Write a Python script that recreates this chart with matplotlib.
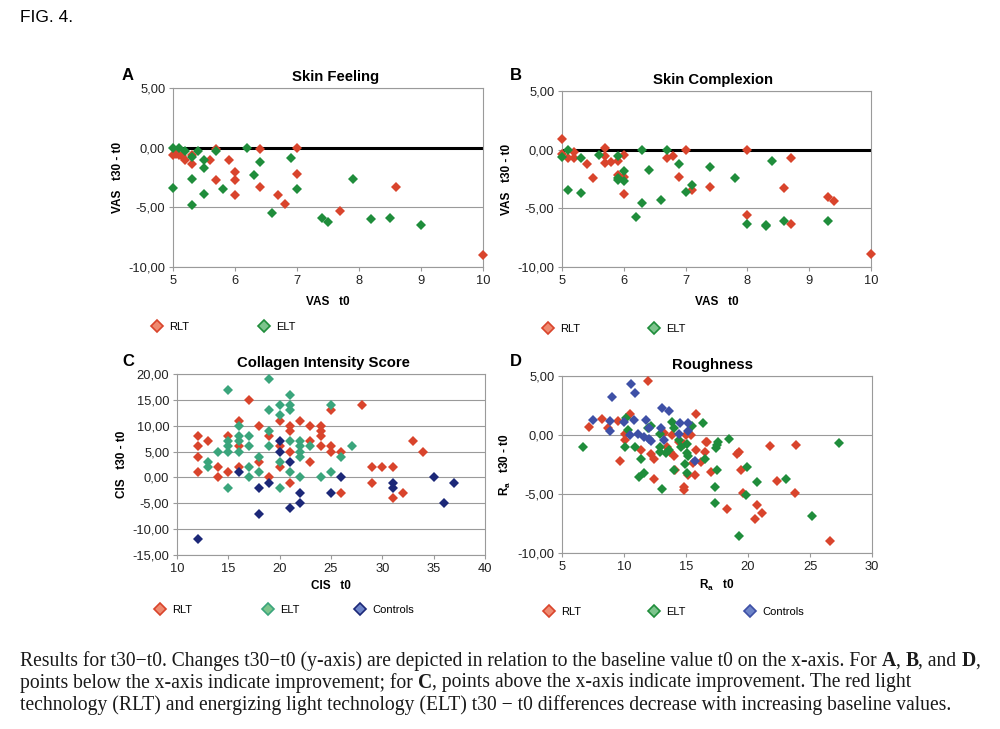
import matplotlib
matplotlib.use("Agg")
import matplotlib.pyplot as plt
from matplotlib.lines import Line2D
from matplotlib.ticker import FuncFormatter, MultipleLocator

plt.rcParams['font.family'] = ['Liberation Sans', 'DejaVu Sans']
plt.rcParams['mathtext.fontset'] = 'custom'
plt.rcParams['mathtext.rm'] = 'Liberation Sans'
plt.rcParams['mathtext.bf'] = 'Liberation Sans:bold'

# Panel A - Skin Feeling
A_RLT_X = [5.0, 5.05, 5.1, 5.15, 5.2, 5.3, 5.3, 5.6, 5.7, 5.7, 5.9, 6.0, 6.0, 6.0, 6.4, 6.4, 6.7, 6.8, 7.0, 7.0, 7.7, 8.6, 10.0]
A_RLT_Y = [-0.6, -0.5, -0.6, -0.7, -1.0, -0.6, -1.4, -1.0, -0.15, -2.7, -1.0, -2.0, -2.7, -4.0, -0.15, -3.3, -4.0, -4.75, -0.05, -2.2, -5.3, -3.3, -9.0]
A_ELT_X = [5.0, 5.0, 5.1, 5.2, 5.3, 5.3, 5.3, 5.4, 5.5, 5.5, 5.5, 5.7, 5.8, 6.2, 6.3, 6.4, 6.6, 6.9, 7.0, 7.4, 7.5, 7.9, 8.2, 8.5, 9.0]
A_ELT_Y = [-0.05, -3.4, 0.0, -0.25, -0.75, -2.6, -4.8, -0.25, -1.05, -1.7, -3.9, -0.25, -3.5, 0.0, -2.3, -1.2, -5.5, -0.9, -3.5, -5.9, -6.2, -2.6, -6.0, -5.9, -6.5]

# Panel B - Skin Complexion
B_RLT_X = [5.0, 5.0, 5.1, 5.2, 5.2, 5.4, 5.5, 5.7, 5.7, 5.7, 5.8, 5.9, 5.9, 6.0, 6.0, 6.0, 6.7, 6.8, 6.9, 7.0, 7.1, 7.4, 8.0, 8.0, 8.6, 8.7, 8.7, 9.3, 9.4, 10.0]
B_RLT_Y = [0.95, -0.4, -0.75, -0.7, -0.2, -1.2, -2.45, 0.15, -0.5, -1.15, -1.05, -1.0, -2.2, -0.45, -2.3, -3.8, -0.7, -0.5, -2.3, -0.05, -3.4, -3.2, 0.0, -5.6, -3.3, -0.7, -6.3, -4.0, -4.4, -8.9]
B_ELT_X = [5.0, 5.1, 5.1, 5.3, 5.3, 5.6, 5.9, 5.9, 5.9, 6.0, 6.0, 6.2, 6.3, 6.3, 6.4, 6.6, 6.7, 6.9, 7.0, 7.1, 7.4, 7.8, 8.0, 8.3, 8.3, 8.4, 8.6, 9.3]
B_ELT_Y = [-0.65, 0.0, -3.45, -0.75, -3.7, -0.45, -0.55, -2.4, -2.55, -1.85, -2.65, -5.7, 0.0, -4.55, -1.75, -4.25, 0.0, -1.25, -3.6, -3.0, -1.45, -2.45, -6.3, -6.4, -6.5, -0.95, -6.05, -6.05]

# Panel C - Collagen Intensity Score
C_RLT_X = [12, 12, 12, 12, 13, 14, 14, 15, 15, 16, 16, 16, 17, 18, 18, 19, 19, 20, 20, 20, 21, 21, 21, 21, 22, 23, 23, 23,
           24, 24, 24, 24, 25, 25, 25, 26, 26, 28, 29, 29, 30, 31, 31, 32, 33, 34]
C_RLT_Y = [8, 6, 4, 1, 7, 2, 0, 8, 1, 11, 6, 2, 15, 10, 3, 8, 0, 11, 6, 2, 10, 9, 5, -1, 11, 10, 7, 3,
           10, 9, 8, 6, 13, 6, 5, 5, -3, 14, 2, -1, 2, 2, -4, -3, 7, 5]
C_ELT_X = [13, 13, 14, 15, 15, 15, 15, 15, 16, 16, 16, 16, 17, 17, 17, 17, 18, 18, 19, 19, 19, 19, 20, 20, 20, 20,
           21, 21, 21, 21, 21, 22, 22, 22, 22, 22, 23, 24, 25, 25, 26, 27]
C_ELT_Y = [3, 2, 5, 17, 7, 6, 5, -2, 10, 8, 7, 5, 8, 6, 2, 0, 4, 1, 19, 13, 9, 6, 14, 12, 3, -2,
           16, 14, 13, 7, 1, 7, 6, 5, 4, 0, 6, 0, 14, 1, 4, 6]
C_CTRL_X = [12, 16, 18, 18, 19, 20, 20, 21, 21, 22, 22, 25, 26, 31, 31, 35, 36, 37]
C_CTRL_Y = [-12, 1, -2, -7, -1, 7, 5, 3, -6, -3, -5, -3, 0, -1, -2, 0, -5, -1]

# Panel D - Roughness
D_RLT_X = [7.2, 8.2, 8.7, 9.5, 9.7, 10.1, 10.1, 10.5, 11.4, 11.9, 12.2, 12.4, 12.4, 13.2, 13.5, 13.7, 13.9, 14.0, 14.1,
           14.4, 14.8, 14.8, 14.8, 15.0, 15.2, 15.4, 15.6, 15.7, 15.8, 15.8, 16.2, 16.5, 16.6, 16.7, 17.0, 18.3,
           19.1, 19.3, 19.4, 19.6, 20.6, 20.7, 21.1, 21.8, 22.3, 23.8, 23.9, 26.6]
D_RLT_Y = [0.7, 1.35, 0.6, 1.2, -2.2, 0.05, -0.4, 1.8, -1.25, 4.6, -1.6, -2.0, -3.7, 0.15, -1.0, -1.4, 0.0, -1.8, -3.0,
           -0.6, -0.75, -4.4, -4.7, 0.0, -3.4, 0.0, -2.4, -3.4, 1.8, -1.3, -2.3, -1.4, -0.6, -0.6, -3.1, -6.3,
           -1.6, -1.4, -3.0, -4.9, -7.1, -5.9, -6.6, -0.9, -3.9, -4.9, -0.85, -9.0]
D_ELT_X = [6.7, 10.1, 10.2, 10.3, 10.9, 11.2, 11.4, 11.6, 11.9, 12.2, 12.9, 12.9, 12.9, 13.1, 13.4, 13.6, 13.9, 14.0,
           14.0, 14.4, 14.6, 14.9, 15.1, 15.1, 15.1, 15.2, 15.5, 16.4, 16.5, 17.3, 17.3, 17.4, 17.5, 17.6, 17.5,
           18.5, 19.3, 19.8, 19.9, 20.7, 23.1, 25.2, 27.3]
D_ELT_Y = [-1.0, -1.0, 1.4, 0.4, -1.0, -3.6, -2.0, -3.2, 0.6, 0.8, 0.05, -1.0, -1.4, -4.6, -1.55, -1.3, 1.1, 0.6,
           -3.0, -0.4, -1.0, -2.5, -3.2, -0.8, -1.5, -1.8, 0.75, 1.0, -2.0, -4.4, -5.8, -1.1, -0.85, -0.6, -3.0,
           -0.3, -8.6, -5.1, -2.7, -3.95, -3.7, -6.9, -0.7]
D_CTRL_X = [7.5, 9.0, 8.9, 8.9, 10.0, 10.6, 10.9, 10.8, 10.5, 11.1, 11.8, 11.6, 12.0, 12.2, 12.0, 13.1, 13.6, 13.0,
            13.2, 14.5, 15.2, 15.2, 14.4, 15.7]
D_CTRL_Y = [1.3, 3.2, 1.2, 0.3, 1.1, 4.3, 3.6, 1.3, 0.0, 0.1, 1.3, -0.2, -0.3, -0.5, 0.6, 2.3, 2.0, 0.6,
            -0.4, 1.0, 1.0, 0.3, 0.1, -2.2]

RED = '#d9442c'
GREEN = '#1f8d3b'
TEAL = '#3aa57c'
NAVY = '#1c2878'
BLUE = '#3e50a6'
LIGHT = {RED: '#ef8a70', GREEN: '#7cc48c', TEAL: '#7cc48c', NAVY: '#6d84c8', BLUE: '#6d84c8'}

W, H = 1000, 729
fig = plt.figure(figsize=(W / 100, H / 100), dpi=100)


def rect(x0, x1, y0, y1):
    return [x0 / W, 1 - y1 / H, (x1 - x0) / W, (y1 - y0) / H]


comma = FuncFormatter(lambda v, p: f"{v:.2f}".replace('.', ','))
LEG_FS = 8
LEG_HL = 1.0


def panel(r, letter, letter_xy, title, title_x, xlab, ylab, xlim, xstep, ylim, ystep, series, zero_bold,
          xpad, leg_xs, leg_y):
    ax = fig.add_axes(r)
    for xs, ys, c, lab in series:
        ax.plot(xs, ys, 'D', color=c, markersize=4.8, markeredgewidth=0, label=lab, zorder=3, clip_on=False)
    ax.set_xlim(*xlim)
    ax.set_ylim(*ylim)
    ax.xaxis.set_major_locator(MultipleLocator(xstep))
    ax.yaxis.set_major_locator(MultipleLocator(ystep))
    ax.yaxis.set_major_formatter(comma)
    ax.grid(axis='y', color='#9a9a9a', linewidth=0.8, zorder=1)
    if zero_bold:
        ax.axhline(0, color='black', linewidth=2.2, zorder=2)
    for s in ax.spines.values():
        s.set_color('#9a9a9a')
        s.set_linewidth(0.8)
    ax.tick_params(labelsize=9.3, colors='#9a9a9a', labelcolor='#222222', length=3, width=0.8, pad=2.5)
    ax.set_title(title, fontsize=10.7, fontweight='bold', pad=5, x=title_x)
    ax.set_xlabel(xlab, fontsize=8.5, fontweight='bold', labelpad=xpad)
    ax.set_ylabel(ylab, fontsize=8.5, fontweight='bold', labelpad=3)
    fig.text(letter_xy[0] / W, 1 - letter_xy[1] / H, letter, fontsize=12, fontweight='bold',
             ha='center', va='center')
    # one small legend per entry, so each marker sits where it sits in the figure
    off = 0.5 * LEG_HL * LEG_FS * 100 / 72
    for (_, _, c, lab), lx in zip(series, leg_xs):
        h = Line2D([], [], marker='D', linestyle='none', markersize=6, color=c,
                   markerfacecolor=LIGHT[c], markeredgecolor=c, markeredgewidth=1.2, label=lab)
        fig.legend(handles=[h], loc='center left', bbox_to_anchor=((lx - off) / W, 1 - (leg_y + 2) / H),
                   frameon=False, fontsize=LEG_FS, handlelength=LEG_HL, handletextpad=0.6,
                   borderpad=0, borderaxespad=0)
    return ax


panel(rect(173, 483, 88, 267), 'A', (128, 75), 'Skin Feeling', 0.526, 'VAS   t0', 'VAS   t30 - t0',
      (5, 10), 1, (-10, 5), 5,
      [(A_RLT_X, A_RLT_Y, RED, 'RLT'), (A_ELT_X, A_ELT_Y, GREEN, 'ELT')], True, 7, [157, 264], 325)
panel(rect(562, 871, 91, 267), 'B', (516, 75), 'Skin Complexion', 0.489, 'VAS   t0', 'VAS   t30 - t0',
      (5, 10), 1, (-10, 5), 5,
      [(B_RLT_X, B_RLT_Y, RED, 'RLT'), (B_ELT_X, B_ELT_Y, GREEN, 'ELT')], True, 7, [548, 654], 327)
panel(rect(177, 485, 374, 555), 'C', (128, 362), 'Collagen Intensity Score', 0.477, 'CIS   t0', 'CIS   t30 - t0',
      (10, 40), 5, (-15, 20), 5,
      [(C_RLT_X, C_RLT_Y, RED, 'RLT'), (C_ELT_X, C_ELT_Y, TEAL, 'ELT'), (C_CTRL_X, C_CTRL_Y, NAVY, 'Controls')],
      False, 4, [160, 268, 360], 608)
panel(rect(562, 872, 376, 553), 'D', (516, 362), 'Roughness', 0.487, r'$\mathbf{R_a}$   t0', r'$\mathbf{R_a}$   t30 - t0',
      (5, 30), 5, (-10, 5), 5,
      [(D_RLT_X, D_RLT_Y, RED, 'RLT'), (D_ELT_X, D_ELT_Y, GREEN, 'ELT'), (D_CTRL_X, D_CTRL_Y, BLUE, 'Controls')],
      False, 4, [549, 654, 750], 610)

fig.text(20 / W, 1 - 18 / H, 'FIG. 4.', fontsize=12.5, va='center', ha='left')

# caption with bold panel letters, drawn piece by piece
CAPTION = [
    [("Results for t30\u2212t0. Changes t30\u2212t0 (y-axis) are depicted in relation to the baseline value t0 on the x-axis. For ", False),
     ("A", True), (", ", False), ("B", True), (", and ", False), ("D", True), (",", False)],
    [("points below the x-axis indicate improvement; for ", False), ("C", True),
     (", points above the x-axis indicate improvement. The red light", False)],
    [("technology (RLT) and energizing light technology (ELT) t30 \u2212 t0 differences decrease with increasing baseline values.", False)],
]
CAP_SIZE = 14.1
renderer = fig.canvas.get_renderer()
for i, line in enumerate(CAPTION):
    x = 20
    y = 661 + i * 22
    for txt, bold in line:
        weight = 'bold' if bold else 'normal'
        fig.text(x / W, 1 - y / H, txt, fontsize=CAP_SIZE, family='Liberation Serif',
                 fontweight=weight, va='center', ha='left', color='#1a1a1a')
        # measure with a marker so trailing spaces count
        probe = fig.text(0, 0, txt + '|', fontsize=CAP_SIZE, family='Liberation Serif', fontweight=weight)
        bar = fig.text(0, 0, '|', fontsize=CAP_SIZE, family='Liberation Serif', fontweight=weight)
        x += probe.get_window_extent(renderer).width - bar.get_window_extent(renderer).width
        probe.remove()
        bar.remove()

fig.savefig('out.png', dpi=100)
